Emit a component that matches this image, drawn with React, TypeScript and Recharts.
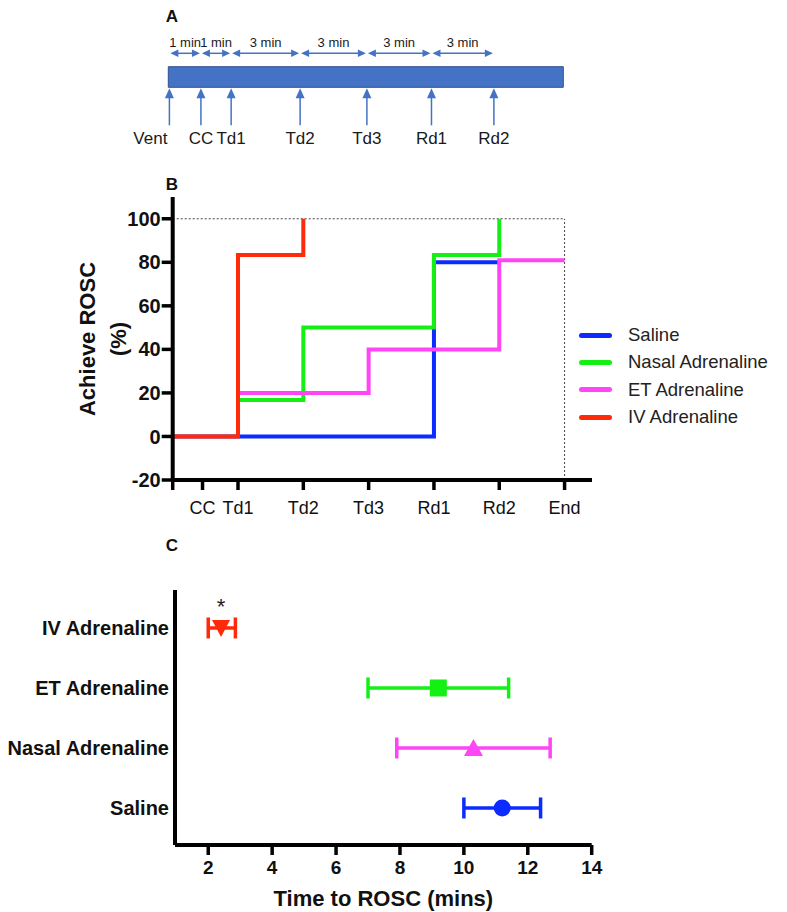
import React from 'react';
import {
  ScatterChart, Scatter, LineChart, Line, XAxis, YAxis, ReferenceArea, ReferenceLine, Legend, ErrorBar,
} from 'recharts';

const FONT = '"Liberation Sans", Arial, Helvetica, sans-serif';
const ARROW = '#4472C4';

// --- Panel A: protocol timeline (positions, in minutes) ---
const eventLabels = ['Vent', 'CC', 'Td1', 'Td2', 'Td3', 'Rd1', 'Rd2'];
const eventPos = [-0.82, 0.62, 2.0, 5.15, 8.2, 11.15, 14.0];
const intervalLabels = ['1 min', '1 min', '3 min', '3 min', '3 min', '3 min'];
const timelineStart = -0.87;
const timelineEnd = 17.17;

// --- Panel B: cumulative ROSC (%) ---
const bTickPos = [0, 1.37, 3, 6, 9, 12, 15, 18];
const bTickLabels = ['', 'CC', 'Td1', 'Td2', 'Td3', 'Rd1', 'Rd2', 'End'];
const bYTicks = [-20, 0, 20, 40, 60, 80, 100];

const salineX = [0, 3, 12, 15];
const salineY = [0, 0, 80, 80];
const nasalX = [0, 3, 6, 12, 15];
const nasalY = [0, 16.7, 50, 83.3, 100];
const etX = [0, 3, 9, 15, 18];
const etY = [0, 20, 40, 81, 81];
const ivX = [0, 3, 6];
const ivY = [0, 83.3, 100];

const BLUE = '#0B2BFF';
const GREEN = '#14F014';
const PINK = '#FF45F5';
const RED = '#FF2A0A';

const toPoints = (xs: number[], ys: number[]) => xs.map((x, i) => ({ x, y: ys[i] }));

const bSeries = [
  { name: 'Saline', color: BLUE, data: toPoints(salineX, salineY) },
  { name: 'Nasal Adrenaline', color: GREEN, data: toPoints(nasalX, nasalY) },
  { name: 'ET Adrenaline', color: PINK, data: toPoints(etX, etY) },
  { name: 'IV Adrenaline', color: RED, data: toPoints(ivX, ivY) },
];

// --- Panel C: time to ROSC ---
const cRows = ['Saline', 'Nasal Adrenaline', 'ET Adrenaline', 'IV Adrenaline'];
const cMean = [11.2, 10.3, 9.2, 2.4];
const cLow = [10.0, 7.9, 7.0, 2.0];
const cHigh = [12.4, 12.7, 11.4, 2.85];
const cSig = ['', '', '', '*'];
const cColors = [BLUE, PINK, GREEN, RED];
const cXTicks = [2, 4, 6, 8, 10, 12, 14];

const UpArrow = (props: any) => {
  const { cx, cy, payload } = props;
  const tip = cy + 1;
  const first = payload.idx === 0;
  return (
    <g>
      <line x1={cx} y1={tip + 8} x2={cx} y2={cy + 38} stroke={ARROW} strokeWidth={1.5} />
      <polygon points={`${cx},${tip} ${cx - 4.5},${tip + 10} ${cx + 4.5},${tip + 10}`} fill={ARROW} />
      <text x={first ? cx - 2 : cx} y={cy + 57} textAnchor={first ? 'end' : 'middle'} fontSize={17} fill="#1a1a1a" fontFamily={FONT}>
        {payload.label}
      </text>
    </g>
  );
};

const DoubleArrow = (props: any) => {
  const { x1, x2, y1, label } = props;
  const y = y1 - 13.4;
  const a = x1 + 1;
  const b = x2 - 1;
  return (
    <g>
      <line x1={a + 6} x2={b - 6} y1={y} y2={y} stroke={ARROW} strokeWidth={1.5} />
      <polygon points={`${a},${y} ${a + 8},${y - 3.8} ${a + 8},${y + 3.8}`} fill={ARROW} />
      <polygon points={`${b},${y} ${b - 8},${y - 3.8} ${b - 8},${y + 3.8}`} fill={ARROW} />
      <text x={(a + b) / 2} y={y - 6} textAnchor="middle" fontSize={13} fill="#1a1a1a" fontFamily={FONT}>
        {label}
      </text>
    </g>
  );
};

const Timeline = () => {
  const events = eventLabels.map((label, idx) => ({ t: eventPos[idx], y: 0, label, idx }));
  return (
    <ScatterChart width={787} height={160} margin={{ top: 66.7, right: 223.7, left: 168.3, bottom: 72.7 }}>
      <XAxis type="number" dataKey="t" domain={[timelineStart, timelineEnd]} hide />
      <YAxis type="number" dataKey="y" domain={[0, 1]} hide />
      <ReferenceArea x1={timelineStart} x2={timelineEnd} y1={0} y2={1} fill="#4472C4" fillOpacity={1} stroke="#2F528F" strokeWidth={1} />
      {intervalLabels.map((label, i) => (
        <ReferenceLine
          key={i}
          segment={[{ x: eventPos[i], y: 1 }, { x: eventPos[i + 1], y: 1 }]}
          shape={(p: any) => <DoubleArrow {...p} label={label} />}
        />
      ))}
      <Scatter data={events} shape={UpArrow} isAnimationActive={false} />
    </ScatterChart>
  );
};

const renderLegendB = () => (
  <div style={{ fontFamily: FONT }}>
    {bSeries.map((s) => (
      <div key={s.name} style={{ display: 'flex', alignItems: 'center', height: 27.3 }}>
        <span style={{ display: 'inline-block', width: 33, height: 5, borderRadius: 3, background: s.color, marginRight: 16 }} />
        <span style={{ fontSize: 18.5, color: '#222', whiteSpace: 'nowrap' }}>{s.name}</span>
      </div>
    ))}
  </div>
);

const RoscChart = () => (
  <LineChart width={787} height={360} margin={{ top: 27, right: 195, left: 0, bottom: 10 }}>
    <XAxis
      type="number"
      dataKey="x"
      domain={[0, 19.26]}
      ticks={bTickPos}
      interval={0}
      tickFormatter={(v: number) => bTickLabels[bTickPos.indexOf(v)] ?? ''}
      tick={{ fill: '#111', fontSize: 18, fontFamily: FONT }}
      tickSize={10}
      tickMargin={11}
      height={40}
      axisLine={{ stroke: '#000', strokeWidth: 4 }}
      tickLine={{ stroke: '#000', strokeWidth: 3.5 }}
    />
    <YAxis
      type="number"
      domain={[-20, 110]}
      ticks={bYTicks}
      interval={0}
      width={172.7}
      tick={{ fill: '#111', fontSize: 20, fontWeight: 700, fontFamily: FONT }}
      tickSize={11}
      tickMargin={1}
      axisLine={{ stroke: '#000', strokeWidth: 4 }}
      tickLine={{ stroke: '#000', strokeWidth: 3.5 }}
    />
    <ReferenceLine segment={[{ x: 0, y: 100 }, { x: 18, y: 100 }]} stroke="#444" strokeWidth={1} strokeDasharray="2 2" />
    <ReferenceLine segment={[{ x: 18, y: -20 }, { x: 18, y: 100 }]} stroke="#444" strokeWidth={1} strokeDasharray="2 2" />
    {bSeries.map((s) => (
      <Line
        key={s.name}
        data={s.data}
        dataKey="y"
        name={s.name}
        type="stepAfter"
        stroke={s.color}
        strokeWidth={4}
        dot={false}
        activeDot={false}
        isAnimationActive={false}
      />
    ))}
    <Legend layout="vertical" align="center" verticalAlign="middle" wrapperStyle={{ left: 579, top: 151.5, width: 208 }} content={renderLegendB} />
  </LineChart>
);

const markerShapes = [
  (cx: number, cy: number, c: string) => <circle cx={cx} cy={cy} r={8.5} fill={c} />,
  (cx: number, cy: number, c: string) => <polygon points={`${cx},${cy - 9} ${cx - 9.5},${cy + 8} ${cx + 9.5},${cy + 8}`} fill={c} />,
  (cx: number, cy: number, c: string) => <rect x={cx - 8.5} y={cy - 8.5} width={17} height={17} fill={c} />,
  (cx: number, cy: number, c: string) => <polygon points={`${cx - 9},${cy - 8} ${cx + 9},${cy - 8} ${cx},${cy + 9}`} fill={c} />,
];

const TimeChart = () => (
  <ScatterChart width={787} height={352} margin={{ top: 30, right: 195.3, left: 0, bottom: 5 }}>
    <XAxis
      type="number"
      dataKey="x"
      domain={[0.96, 14]}
      ticks={cXTicks}
      interval={0}
      height={62}
      tick={{ fill: '#111', fontSize: 19, fontWeight: 700, fontFamily: FONT }}
      tickSize={10}
      tickMargin={6}
      axisLine={{ stroke: '#000', strokeWidth: 4 }}
      tickLine={{ stroke: '#000', strokeWidth: 3.5 }}
      label={{ value: 'Time to ROSC (mins)', position: 'insideBottom', offset: 1, fontSize: 22, fontWeight: 700, fill: '#111', fontFamily: FONT }}
    />
    <YAxis
      type="number"
      dataKey="y"
      domain={[0.383, 4.633]}
      ticks={[1, 2, 3, 4]}
      interval={0}
      width={175}
      tickLine={false}
      tickSize={0}
      tickMargin={6}
      tickFormatter={(v: number) => cRows[v - 1]}
      tick={{ fill: '#111', fontSize: 20, fontWeight: 700, fontFamily: FONT }}
      axisLine={{ stroke: '#000', strokeWidth: 4 }}
    />
    {cRows.map((name, i) => {
      const row = { x: cMean[i], y: i + 1, err: [cMean[i] - cLow[i], cHigh[i] - cMean[i]], sig: cSig[i] };
      return (
        <Scatter
          key={name}
          name={name}
          data={[row]}
          isAnimationActive={false}
          shape={(p: any) => (
            <g>
              {markerShapes[i](p.cx, p.cy, cColors[i])}
              {p.payload.sig ? (
                <text x={p.cx} y={p.cy - 14} textAnchor="middle" fontSize={22} fill="#222" fontFamily={FONT}>
                  {p.payload.sig}
                </text>
              ) : null}
            </g>
          )}
        >
          <ErrorBar dataKey="err" direction="x" stroke={cColors[i]} strokeWidth={3.5} width={10.5} isAnimationActive={false} />
        </Scatter>
      );
    })}
  </ScatterChart>
);

const panelLabel: React.CSSProperties = {
  position: 'absolute', fontFamily: FONT, fontWeight: 700, fontSize: 17, color: '#111', lineHeight: '20px', width: 20, textAlign: 'center',
};

export default function App() {
  return (
    <div style={{ position: 'absolute', left: 0, top: 0, width: 787, height: 912, background: '#fff', fontFamily: FONT, overflow: 'hidden' }}>
      <div style={{ ...panelLabel, left: 162, top: 7 }}>A</div>
      <div style={{ ...panelLabel, left: 162, top: 175 }}>B</div>
      <div style={{ ...panelLabel, left: 162, top: 536 }}>C</div>

      <div style={{ position: 'absolute', left: 0, top: 0 }}>
        <Timeline />
      </div>

      <div style={{ position: 'absolute', left: 0, top: 170 }}>
        <RoscChart />
      </div>
      <div
        style={{
          position: 'absolute', left: 3, top: 308, width: 200, height: 62, transform: 'rotate(-90deg)',
          textAlign: 'center', fontWeight: 700, fontSize: 22, lineHeight: '31px', color: '#111',
        }}
      >
        Achieve ROSC
        <br />
        (%)
      </div>

      <div style={{ position: 'absolute', left: 0, top: 560 }}>
        <TimeChart />
      </div>
    </div>
  );
}
